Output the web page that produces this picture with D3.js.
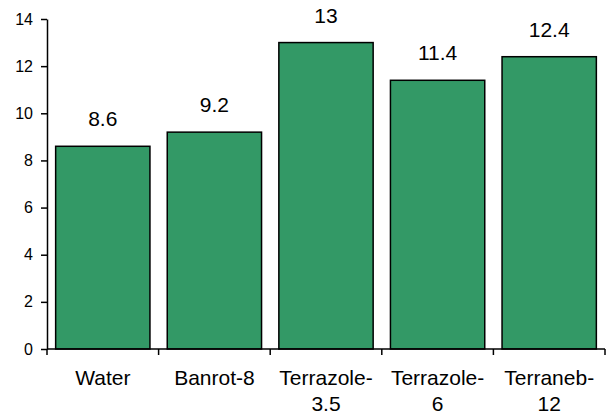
<!DOCTYPE html>
<html>
<head>
<meta charset="utf-8">
<script src="https://cdn.jsdelivr.net/npm/d3@7"></script>
<style>
  html, body { margin: 0; padding: 0; background: #fff; }
  svg { display: block; font-family: Arial, "Liberation Sans", sans-serif; }
</style>
</head>
<body>
<svg id="chart" width="612" height="417"></svg>
<script>
const categories = [["Water"], ["Banrot-8"], ["Terrazole-", "3.5"], ["Terrazole-", "6"], ["Terraneb-", "12"]];
const values = [8.6, 9.2, 13, 11.4, 12.4];
const valueLabels = ["8.6", "9.2", "13", "11.4", "12.4"];
const yTicks = [0, 2, 4, 6, 8, 10, 12, 14];

(function () {
const svg = d3.select("#chart");
const mLeft = 47, mRight = 605, mTop = 19, mBottom = 349;

const x = d3.scaleBand()
  .domain(d3.range(categories.length))
  .range([mLeft, mRight])
  .paddingInner(0.155)
  .paddingOuter(0.0775);

const y = d3.scaleLinear().domain([0, 14]).range([mBottom, mTop]);

// bars
svg.selectAll("rect.bar")
  .data(values)
  .join("rect")
  .attr("class", "bar")
  .attr("x", (d, i) => x(i))
  .attr("width", x.bandwidth())
  .attr("y", d => y(d))
  .attr("height", d => y(0) - y(d))
  .attr("fill", "#339966")
  .attr("stroke", "#000")
  .attr("stroke-width", 1.5);

// value labels
svg.selectAll("text.val")
  .data(values)
  .join("text")
  .attr("class", "val")
  .attr("x", (d, i) => x(i) + x.bandwidth() / 2)
  .attr("y", d => y(d) - 20)
  .attr("text-anchor", "middle")
  .attr("font-size", 21)
  .attr("fill", "#000")
  .text((d, i) => valueLabels[i]);

// y axis
const yAxis = d3.axisLeft(y).tickValues(yTicks).tickSize(6).tickPadding(8).tickSizeOuter(0);
const gy = svg.append("g").attr("transform", `translate(${mLeft},0)`).call(yAxis);
gy.select(".domain").attr("stroke", "#000").attr("stroke-width", 1.5);
gy.selectAll(".tick line").attr("stroke", "#000").attr("stroke-width", 1.5);
gy.selectAll(".tick text").attr("font-size", 16).attr("font-family", "Arial, 'Liberation Sans', sans-serif").attr("fill", "#000");

// x axis with ticks at band boundaries
const boundaries = d3.range(categories.length + 1).map(i => mLeft + i * (mRight - mLeft) / categories.length);
const gx = svg.append("g");
gx.append("line")
  .attr("x1", mLeft).attr("x2", mRight)
  .attr("y1", mBottom).attr("y2", mBottom)
  .attr("stroke", "#000").attr("stroke-width", 1.5);
gx.selectAll("line.tk")
  .data(boundaries)
  .join("line")
  .attr("class", "tk")
  .attr("x1", d => d).attr("x2", d => d)
  .attr("y1", mBottom).attr("y2", mBottom + 6)
  .attr("stroke", "#000").attr("stroke-width", 1.5);

// category labels
const cl = svg.selectAll("text.cat")
  .data(categories)
  .join("text")
  .attr("class", "cat")
  .attr("text-anchor", "middle")
  .attr("font-size", 21)
  .attr("fill", "#000");
cl.each(function(lines, i) {
  const t = d3.select(this);
  lines.forEach((ln, j) => {
    t.append("tspan")
      .attr("x", x(i) + x.bandwidth() / 2)
      .attr("y", 385 + j * 26)
      .text(ln);
  });
});
})();
</script>
</body>
</html>
